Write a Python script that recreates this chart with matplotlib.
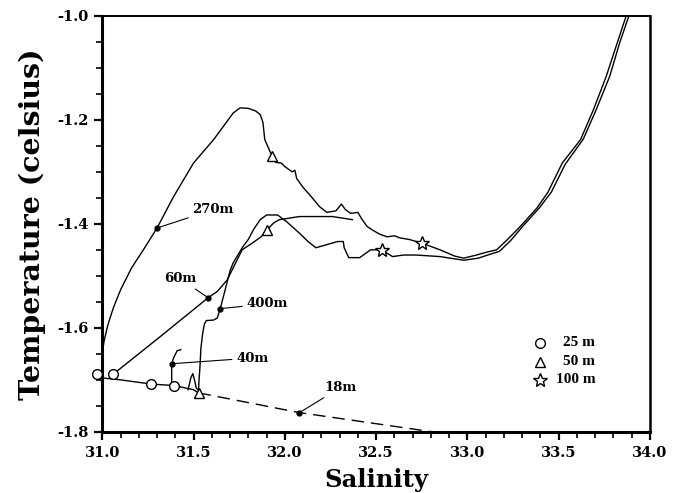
import matplotlib
matplotlib.use("Agg")
import matplotlib.pyplot as plt
from matplotlib.ticker import MultipleLocator, FormatStrFormatter

plt.rcParams['axes.unicode_minus'] = False
plt.rcParams['font.family'] = 'DejaVu Serif'

# 270m cast
s270 = [30.971, 30.99, 31.00, 31.01, 31.03, 31.06, 31.10, 31.16, 31.225, 31.30, 31.39, 31.50,
        31.61, 31.717, 31.755, 31.80, 31.84, 31.865, 31.88, 31.89, 31.93, 31.95, 31.98, 32.00,
        32.04, 32.055, 32.065, 32.10, 32.15, 32.19, 32.23, 32.28, 32.31, 32.33, 32.36, 32.40,
        32.42, 32.45, 32.48, 32.52, 32.56, 32.60, 32.63, 32.68, 32.75, 32.85, 32.93, 32.98,
        33.05, 33.10, 33.16, 33.22, 33.29, 33.38, 33.44, 33.52, 33.62, 33.69, 33.76, 33.82, 33.87]
t270 = [-1.688, -1.655, -1.648, -1.625, -1.595, -1.562, -1.527, -1.485, -1.45, -1.408, -1.348, -1.283,
        -1.238, -1.187, -1.177, -1.178, -1.183, -1.19, -1.205, -1.238, -1.27, -1.282, -1.283, -1.29,
        -1.30, -1.297, -1.313, -1.33, -1.35, -1.367, -1.378, -1.375, -1.362, -1.372, -1.38, -1.378,
        -1.39, -1.405, -1.412, -1.42, -1.425, -1.423, -1.427, -1.43, -1.437, -1.45, -1.462, -1.466,
        -1.46, -1.455, -1.45, -1.43, -1.405, -1.37, -1.34, -1.283, -1.238, -1.181, -1.117, -1.053, -1.0]

# 400m cast
s400 = [31.47, 31.485, 31.496, 31.505, 31.515, 31.527, 31.53, 31.535, 31.54, 31.55, 31.56, 31.57,
        31.61, 31.63, 31.646, 31.673, 31.70, 31.717, 31.77, 31.80, 31.83, 31.865, 31.90, 31.96,
        32.01, 32.08, 32.13, 32.17, 32.23, 32.29, 32.32, 32.325, 32.35, 32.41, 32.45, 32.47,
        32.53, 32.59, 32.65, 32.72, 32.85, 32.98, 33.06, 33.12, 33.175, 33.235, 33.305, 33.395,
        33.46, 33.535, 33.635, 33.705, 33.78, 33.835, 33.885]
t400 = [-1.719, -1.696, -1.688, -1.70, -1.716, -1.72, -1.70, -1.675, -1.64, -1.61, -1.592, -1.586,
        -1.585, -1.581, -1.563, -1.527, -1.49, -1.475, -1.444, -1.43, -1.41, -1.392, -1.383, -1.383,
        -1.396, -1.418, -1.435, -1.446, -1.44, -1.434, -1.434, -1.446, -1.465, -1.465, -1.455, -1.45,
        -1.45, -1.463, -1.46, -1.46, -1.463, -1.47, -1.466, -1.459, -1.453, -1.433, -1.404, -1.369,
        -1.339, -1.286, -1.237, -1.181, -1.116, -1.051, -1.0]

# 60m cast
s60 = [31.06, 31.317, 31.58, 31.63, 31.684, 31.766, 31.83, 31.87, 31.90, 31.94, 31.97, 32.08, 32.26, 32.37]
t60 = [-1.689, -1.617, -1.542, -1.53, -1.508, -1.45, -1.435, -1.425, -1.412, -1.398, -1.392, -1.386, -1.386, -1.392]

# 40m cast
s40 = [31.39, 31.38, 31.38, 31.38, 31.39, 31.41, 31.43]
t40 = [-1.713, -1.706, -1.69, -1.671, -1.658, -1.644, -1.642]

# 18m cast (solid part, then dashed part)
s18 = [30.92, 30.99, 31.10, 31.266, 31.395, 31.50, 31.527]
t18 = [-1.681, -1.696, -1.70, -1.708, -1.711, -1.719, -1.725]
s18d = [31.527, 32.08, 32.81]
t18d = [-1.725, -1.763, -1.80]

# depth markers
s25 = [30.971, 31.06, 31.266, 31.395]
t25 = [-1.688, -1.689, -1.708, -1.711]
s50 = [31.93, 31.90, 31.527]
t50 = [-1.27, -1.412, -1.725]
s100 = [32.53, 32.75]
t100 = [-1.45, -1.437]

# labelled points
lab_text = ['270m', '60m', '400m', '40m', '18m']
lab_s = [31.30, 31.58, 31.646, 31.38, 32.08]
lab_t = [-1.408, -1.542, -1.563, -1.669, -1.763]
lab_ts = [31.493, 31.515, 31.79, 31.733, 32.215]
lab_tt = [-1.373, -1.506, -1.554, -1.658, -1.715]
lab_ha = ['left', 'right', 'left', 'left', 'left']

leg_text = ['25 m', '50 m', '100 m']
leg_marker = ['o', '^', '*']

fig = plt.figure(figsize=(6.82, 4.93), dpi=100)
ax = fig.add_axes([0.150, 0.124, 0.803, 0.844])

lw = 1.0
ax.plot(s270, t270, color='black', lw=lw)
ax.plot(s400, t400, color='black', lw=lw)
ax.plot(s60, t60, color='black', lw=lw)
ax.plot(s40, t40, color='black', lw=lw)
ax.plot(s18, t18, color='black', lw=lw)
ax.plot(s18d, t18d, color='black', lw=lw, ls=(0, (9, 5)))

ax.plot(s25, t25, 'o', ms=7, mfc='white', mec='black', mew=1.0, clip_on=False, zorder=4)
ax.plot(s50, t50, '^', ms=7, mfc='white', mec='black', mew=1.0, zorder=4)
ax.plot(s100, t100, '*', ms=10, mfc='white', mec='black', mew=1.0, zorder=4)
ax.plot(lab_s, lab_t, 'o', ms=3.5, color='black', zorder=5)

for i in range(len(lab_text)):
    ax.annotate(lab_text[i], xy=(lab_s[i], lab_t[i]), xytext=(lab_ts[i], lab_tt[i]),
                ha=lab_ha[i], va='center', fontsize=9.5, fontweight='bold',
                arrowprops=dict(arrowstyle='-', lw=0.8, color='black', shrinkA=1, shrinkB=0))

# legend
leg_y = [-1.629, -1.665, -1.700]
for i in range(3):
    ms = 10 if leg_marker[i] == '*' else 7
    ax.plot([33.40], [leg_y[i]], leg_marker[i], ms=ms, mfc='white', mec='black', mew=1.0)
    ax.text(33.70, leg_y[i], leg_text[i], ha='right', va='center', fontsize=11,
            fontweight='bold', family='Liberation Serif')

ax.set_xlim(31.0, 34.0)
ax.set_ylim(-1.8, -1.0)
ax.xaxis.set_major_locator(MultipleLocator(0.5))
ax.xaxis.set_minor_locator(MultipleLocator(0.1))
ax.yaxis.set_major_locator(MultipleLocator(0.2))
ax.yaxis.set_minor_locator(MultipleLocator(0.05))
ax.xaxis.set_major_formatter(FormatStrFormatter('%.1f'))
ax.yaxis.set_major_formatter(FormatStrFormatter('%.1f'))
ax.tick_params(which='major', direction='out', length=6, width=1.6, labelsize=10.5, pad=4)
ax.tick_params(which='minor', direction='out', length=4, width=1.2)
for lbl in ax.get_xticklabels() + ax.get_yticklabels():
    lbl.set_fontweight('bold')

ax.spines['left'].set_linewidth(2.2)
ax.spines['bottom'].set_linewidth(2.2)
ax.spines['top'].set_linewidth(1.4)
ax.spines['right'].set_linewidth(1.8)

ax.set_xlabel('Salinity', fontsize=17.5, fontweight='bold', labelpad=6)
ax.set_ylabel('Temperature (celsius)', fontsize=20.5, fontweight='bold', labelpad=8)

fig.savefig('out.png', dpi=100)
